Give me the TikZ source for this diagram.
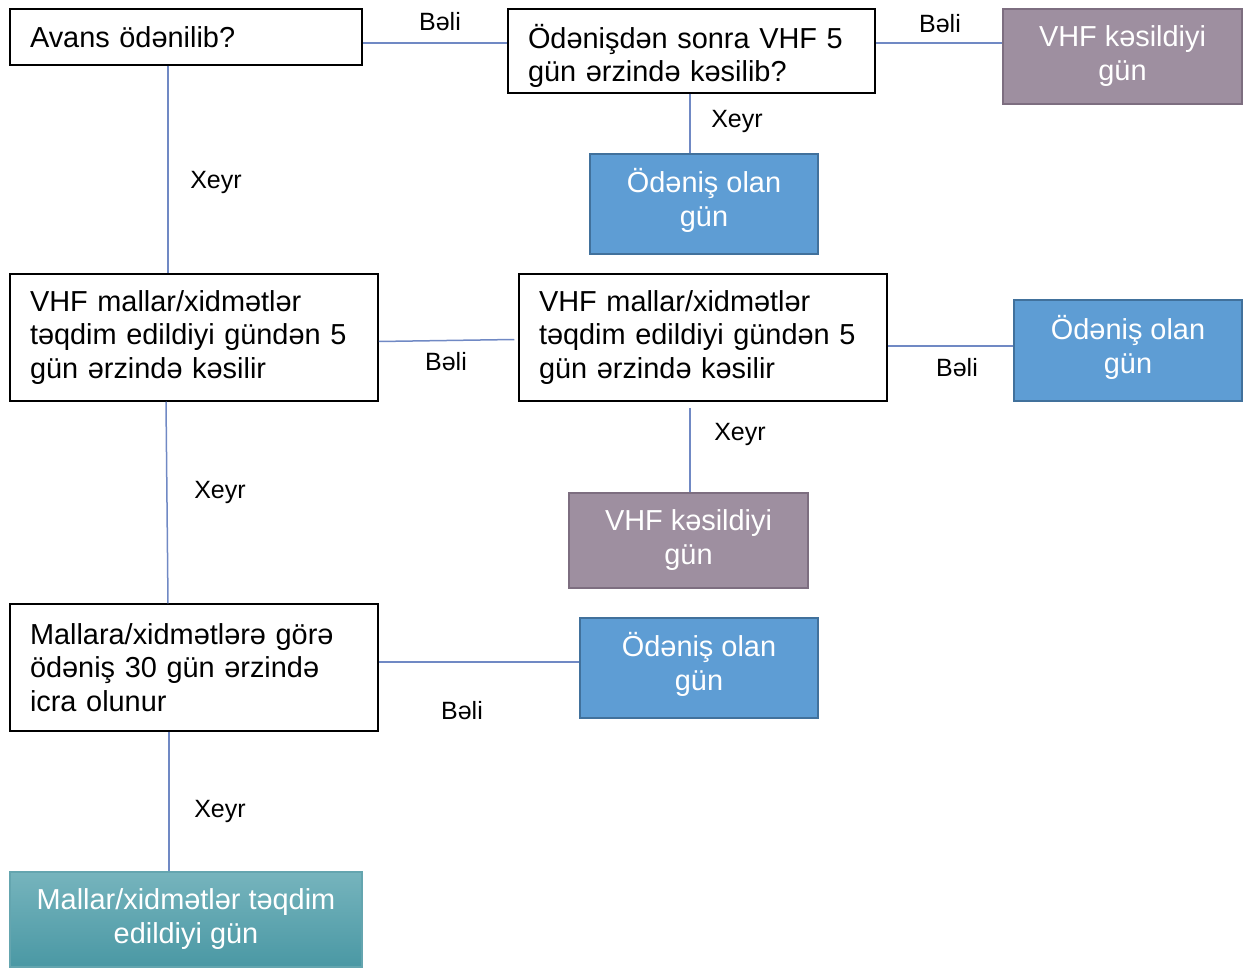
\documentclass[tikz,border=0pt]{standalone}
\usepackage{fontspec}
\setmainfont{Liberation Sans}
\definecolor{conncol}{RGB}{112,137,196}
\definecolor{purfill}{RGB}{158,143,160}
\definecolor{purdraw}{RGB}{125,110,128}
\definecolor{bluefill}{RGB}{94,157,212}
\definecolor{bluedraw}{RGB}{65,113,156}
\definecolor{tealtop}{RGB}{118,180,189}
\definecolor{tealbot}{RGB}{74,152,164}
\definecolor{tealdraw}{RGB}{100,165,175}
\newcommand{\lowdepth}{\rule[-13pt]{0pt}{1pt}}
\begin{document}
\begin{tikzpicture}[x=1pt,y=-1pt,
  wbox/.style={draw=black, line width=1.5pt, fill=white, inner xsep=20pt, inner ysep=0pt, align=left, font=\fontsize{28.9}{33.5}\selectfont},
  cbox/.style={line width=2pt, inner sep=0pt, align=center, text=white, font=\fontsize{28.9}{34}\selectfont},
  purbox/.style={cbox, draw=purdraw, fill=purfill},
  bluebox/.style={cbox, draw=bluedraw, fill=bluefill},
  tealbox/.style={cbox, draw=tealdraw, top color=tealtop, bottom color=tealbot},
  conn/.style={draw=conncol, line width=1.5pt},
  lab/.style={font=\fontsize{25}{30}\selectfont, inner sep=0pt}]
\useasboundingbox (0,0) rectangle (1250,968);
% boxes
\node[wbox, text width=312pt, minimum width=352pt, minimum height=56pt] (avans) at (186,37) {Avans ödənilib?};
\node[wbox, text width=327pt, minimum width=367pt, minimum height=84pt] (q2) at (691.5,51) {\rule{0pt}{34pt}Ödənişdən sonra VHF 5\\gün ərzində kəsilib?};
\node[purbox, minimum width=239pt, minimum height=95pt] (p1) at (1122.5,56.5) {VHF kəsildiyi\\gün};
\node[bluebox, minimum width=228pt, minimum height=100pt] (b1) at (704,204) {Ödəniş olan\\gün\lowdepth};
\node[wbox, text width=328pt, minimum width=368pt, minimum height=127pt] (v1) at (194,337.5) {VHF mallar/xidmətlər\\təqdim edildiyi gündən 5\\gün ərzində kəsilir};
\node[wbox, text width=328pt, minimum width=368pt, minimum height=127pt] (v2) at (703,337.5) {VHF mallar/xidmətlər\\təqdim edildiyi gündən 5\\gün ərzində kəsilir};
\node[bluebox, minimum width=228pt, minimum height=101pt] (b2) at (1128,350.5) {Ödəniş olan\\gün\lowdepth};
\node[purbox, minimum width=239pt, minimum height=95pt] (p2) at (688.5,540.5) {VHF kəsildiyi\\gün};
\node[wbox, text width=328pt, minimum width=368pt, minimum height=127pt] (m1) at (194,667.5) {Mallara/xidmətlərə görə\\ödəniş 30 gün ərzində\\icra olunur};
\node[bluebox, minimum width=238pt, minimum height=100pt] (b3) at (699,668) {Ödəniş olan\\gün\lowdepth};
\node[tealbox, minimum width=352pt, minimum height=95pt] (t1) at (186,919.5) {Mallar/xidmətlər təqdim\\edildiyi gün};
% connectors
\coordinate (a0) at ([yshift=-6pt]avans.east);
\draw[conn] (a0) -- (a0 -| q2.west);
\coordinate (a1) at ([yshift=8pt]q2.east);
\draw[conn] (a1) -- (a1 -| p1.west);
\coordinate (a2) at ([xshift=-1.5pt]q2.south);
\draw[conn] (a2) -- (a2 |- b1.north);
\coordinate (c1) at ([xshift=-18pt]avans.south);
\draw[conn] (c1) -- (c1 |- v1.north);
\coordinate (c0) at ([yshift=-4pt]v1.east);
\coordinate (c0b) at ([yshift=-2pt]v2.west);
\draw[conn] (c0) -- ([xshift=-4pt]c0b);
\coordinate (c2) at ([yshift=-8.5pt]v2.east);
\draw[conn] (c2) -- (c2 -| b2.west);
\coordinate (c3) at ([xshift=-13pt,yshift=-6pt]v2.south);
\draw[conn] (c3) -- (c3 |- p2.north);
\coordinate (c4) at ([xshift=-28pt]v1.south);
\coordinate (c4b) at ([xshift=-26pt]m1.north);
\draw[conn] (c4) -- (c4b);
\coordinate (c5) at ([yshift=5.5pt]m1.east);
\draw[conn] (c5) -- (c5 -| b3.west);
\coordinate (c6) at ([xshift=-25pt]m1.south);
\draw[conn] (c6) -- (c6 |- t1.north);
% labels
\node[lab] (l1) at (440,22) {Bəli};
\node[lab] (l2) at (940,24) {Bəli};
\node[lab] (l3) at (737,121) {Xeyr};
\node[lab] (l4) at (216,182) {Xeyr};
\node[lab] (l5) at (446,362) {Bəli};
\node[lab] (l6) at (957,368) {Bəli};
\node[lab] (l7) at (740,434) {Xeyr};
\node[lab] (l8) at (220,492) {Xeyr};
\node[lab] (l9) at (462,711) {Bəli};
\node[lab] (l10) at (220,811) {Xeyr};
\end{tikzpicture}
\end{document}
